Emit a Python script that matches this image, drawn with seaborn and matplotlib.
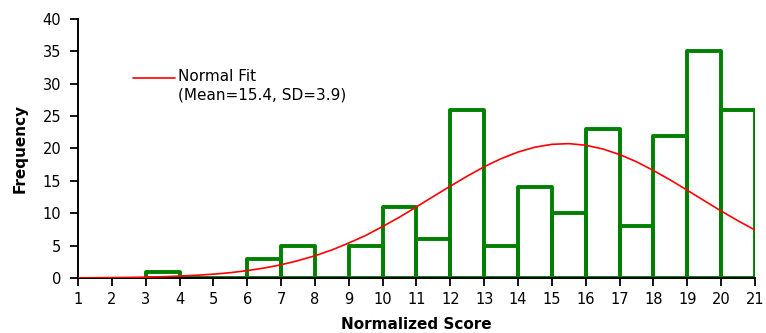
import pandas as pd
import matplotlib
matplotlib.use("Agg")
import matplotlib.pyplot as plt
import seaborn as sns

# Histogram counts per unit bin (lower edge -> count)
bin_lower = [1, 2, 3, 4, 5, 6, 7, 8, 9, 10, 11, 12, 13, 14, 15, 16, 17, 18, 19, 20]
counts = [0, 0, 1, 0, 0, 3, 5, 0, 5, 11, 6, 26, 5, 14, 10, 23, 8, 22, 35, 26]

# Normal fit curve
fit_x = [1, 1.5, 2, 2.5, 3, 3.5, 4, 4.5, 5, 5.5, 6, 6.5, 7, 7.5, 8, 8.5, 9, 9.5, 10,
         10.5, 11, 11.5, 12, 12.5, 13, 13.5, 14, 14.5, 15, 15.5, 16, 16.5, 17, 17.5,
         18, 18.5, 19, 19.5, 20, 20.5, 21]
fit_y = [0.02, 0.04, 0.06, 0.09, 0.13, 0.19, 0.3, 0.42, 0.59, 0.82, 1.14, 1.54, 2.04,
         2.68, 3.43, 4.33, 5.4, 6.57, 7.95, 9.4, 10.98, 12.6, 14.18, 15.73, 17.18,
         18.43, 19.45, 20.2, 20.64, 20.75, 20.5, 19.93, 19.07, 17.95, 16.6, 15.13,
         13.55, 11.94, 10.35, 8.83, 7.41]

legend_label = "Normal Fit\n(Mean=15.4, SD=3.9)"

df = pd.DataFrame({"score": [b + 0.5 for b in bin_lower], "count": counts})
fit = pd.DataFrame({"x": fit_x, "y": fit_y})

sns.set_style("white")
plt.rcParams["font.family"] = ["DejaVu Sans"]
plt.rcParams["text.color"] = "black"
plt.rcParams["axes.labelcolor"] = "black"
plt.rcParams["xtick.color"] = "black"
plt.rcParams["ytick.color"] = "black"

fig = plt.figure(figsize=(7.66, 3.33), dpi=100)
ax = fig.add_axes([0.1018, 0.1652, 0.8838, 0.7778])

# the chart leaves the empty first two bins undrawn
sns.histplot(data=df, x="score", weights="count", binwidth=1, binrange=(3, 21),
             fill=False, color="#008000", linewidth=2.8, ax=ax)
for p in ax.patches:
    p.set_joinstyle("round")
sns.lineplot(data=fit, x="x", y="y", color="red", linewidth=1.2, ax=ax, zorder=4)

ax.set_xlim(1, 21)
ax.set_ylim(0, 40)
ax.set_xticks(range(1, 22))
ax.set_yticks(range(0, 41, 5))
ax.tick_params(axis="both", labelsize=10.5, length=6, width=1.3,
               direction="out", pad=6, bottom=True, left=True)
ax.tick_params(axis="x", pad=4)
for s in ["top", "right"]:
    ax.spines[s].set_visible(False)
for s in ["left", "bottom"]:
    ax.spines[s].set_color("black")
    ax.spines[s].set_linewidth(1.4)
ax.spines["bottom"].set_zorder(3)

ax.set_xlabel("Normalized Score", fontsize=11, fontweight="bold", labelpad=7)
ax.set_ylabel("Frequency", fontsize=11, fontweight="bold", labelpad=11)

# legend drawn by hand so the line sits on the first text line
ax.plot([0.081, 0.143], [0.773, 0.773], transform=ax.transAxes, color="red",
        linewidth=1.2, clip_on=False)
ax.text(0.148, 0.805, legend_label, transform=ax.transAxes, fontsize=11,
        va="top", ha="left", linespacing=1.25)

fig.savefig("out.png", dpi=100)
